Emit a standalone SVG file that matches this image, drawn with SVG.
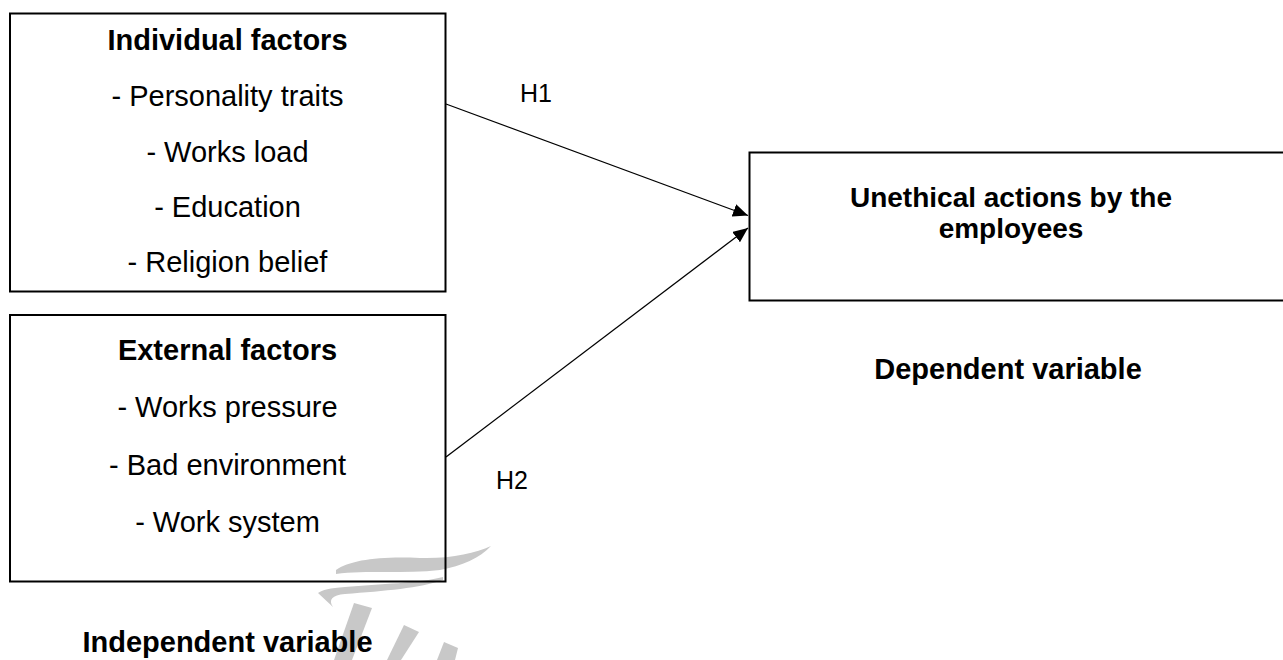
<svg xmlns="http://www.w3.org/2000/svg" width="1283" height="660" viewBox="0 0 1283 660">
  <style>
    .box { fill: none; stroke: #000; stroke-width: 2; }
    .t { font-family: "Liberation Sans", Arial, sans-serif; font-size: 29px; fill: #000; text-anchor: middle; }
    .b { font-weight: bold; }
    .h { font-family: "Liberation Sans", Arial, sans-serif; font-size: 25px; fill: #000; }
    .conn { stroke: #000; stroke-width: 1.3; fill: none; }
    .wm { fill: #c8c8c8; stroke: none; }
  </style>
  <defs>
    <marker id="arrow" markerUnits="userSpaceOnUse" markerWidth="15" markerHeight="13" refX="15" refY="6.5" orient="auto">
      <path d="M0,0 L15,6.5 L0,13 z" fill="#000"/>
    </marker>
  </defs>
  <rect width="1283" height="660" fill="#fff"/>

  <g id="watermark">
    <path class="wm" d="M336,570 C350,560 380,556 420,558 C450,559 475,553 491,546 C480,558 462,566 440,570 C405,574 365,570 336,574 Z"/>
    <path class="wm" d="M443,577 C420,583 380,584 345,587 C330,588 322,590 318,593 L333,607 C328,600 332,595 345,594 C385,591 420,588 443,580 Z"/>
    <path class="wm" d="M354,603 L372,608 L352,660 L334,660 Z"/>
    <path class="wm" d="M404,625 L419,632 L401,660 L387,660 Z"/>
    <path class="wm" d="M444,642 L458,648 L455,660 L437,660 Z"/>
  </g>

  <g id="connectors">
    <line class="conn" x1="446" y1="104" x2="748" y2="215.5" marker-end="url(#arrow)"/>
    <line class="conn" x1="446" y1="457" x2="748" y2="228" marker-end="url(#arrow)"/>
  </g>

  <g id="individual-factors">
    <rect class="box" x="10" y="13.5" width="435.5" height="278"/>
    <text class="t b" x="227.5" y="50">Individual factors</text>
    <text class="t" x="227.5" y="106">- Personality traits</text>
    <text class="t" x="227.5" y="161.5">- Works load</text>
    <text class="t" x="227.5" y="216.5">- Education</text>
    <text class="t" x="227.5" y="271.5">- Religion belief</text>
  </g>

  <g id="external-factors">
    <rect class="box" x="10" y="315" width="435.5" height="266.5"/>
    <text class="t b" x="227.5" y="360">External factors</text>
    <text class="t" x="227.5" y="417">- Works pressure</text>
    <text class="t" x="227.5" y="475">- Bad environment</text>
    <text class="t" x="227.5" y="532">- Work system</text>
  </g>

  <g id="independent-label">
    <text class="t b" x="227.5" y="652">Independent variable</text>
  </g>

  <g id="unethical-actions">
    <rect class="box" x="749.5" y="152.5" width="560" height="148"/>
    <text class="t b" x="1011" y="207" style="font-size:28px">Unethical actions by the</text>
    <text class="t b" x="1011" y="238" style="font-size:28px">employees</text>
  </g>

  <g id="dependent-label">
    <text class="t b" x="1008" y="379">Dependent variable</text>
  </g>

  <g id="labels">
    <text class="h" x="520" y="102">H1</text>
    <text class="h" x="496" y="489">H2</text>
  </g>
</svg>
